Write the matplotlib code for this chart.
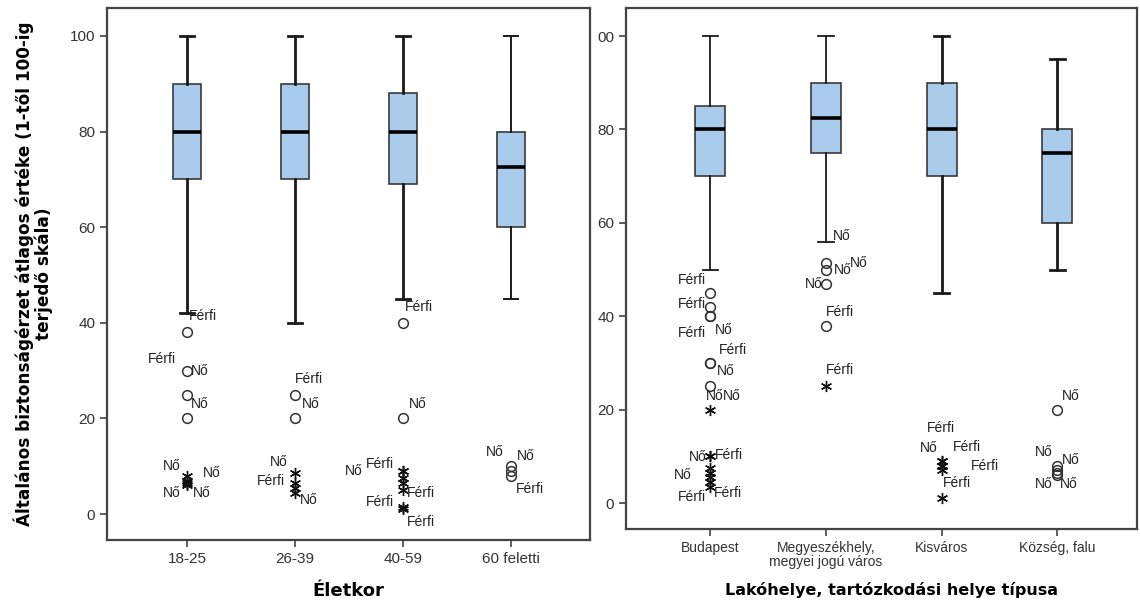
import matplotlib.pyplot as plt

# Életkor szerinti dobozábrák
age_groups = ["18-25", "26-39", "40-59", "60 feletti"]
age_whislo = [42, 40, 45, 45]
age_q1 = [70, 70, 69, 60]
age_med = [80, 80, 80, 72.5]
age_q3 = [90, 90, 88, 80]
age_whishi = [100, 100, 100, 100]

# kiugró értékek: csoport, érték, jelölés ('o' kiugró, '*' extrém), címke
age_out_group = [0, 0, 0, 0, 0, 0, 0, 0,
                 1, 1, 1, 1, 1, 1,
                 2, 2, 2, 2, 2, 2, 2, 2, 2,
                 3, 3, 3]
age_out_value = [38, 30, 25, 20, 8, 7, 6.5, 6,
                 25, 20, 8.5, 6.5, 5.5, 4.5,
                 40, 20, 9, 9, 7.5, 6.5, 5, 1.5, 1,
                 10, 9, 8]
age_out_kind = ["o", "o", "o", "o", "*", "*", "*", "*",
                "o", "o", "*", "*", "*", "*",
                "o", "o", "*", "*", "*", "*", "*", "*", "*",
                "o", "o", "o"]
age_out_label = ["Férfi", "Nő", "Férfi", "Nő", "Nő", "Nő", "Nő", "Nő",
                 "Férfi", "Nő", "Nő", "Férfi", "", "Nő",
                 "Férfi", "Nő", "Férfi", "Nő", "", "", "Férfi", "Férfi", "Férfi",
                 "Nő", "Nő", "Férfi"]
age_label_dx = [2, 4, -39, 4, -24, 16, -24, 6,
                0, 7, -25, -38, 0, 5,
                2, 6, -37, -58, 0, 0, 4, -37, 4,
                -25, 6, 5]
age_label_dy = [16, 0, 36, 14, 10, 8, -10, -8,
                16, 14, 11, 2, 0, -7,
                16, 14, 7, 0, 0, 0, -3, 5, -13,
                14, 15, -13]

# Lakóhely típusa szerinti dobozábrák
place_groups = ["Budapest", "Megyeszékhely,\nmegyei jogú város", "Kisváros", "Község, falu"]
place_whislo = [50, 56, 45, 50]
place_q1 = [70, 75, 70, 60]
place_med = [80, 82.5, 80, 75]
place_q3 = [85, 90, 90, 80]
place_whishi = [100, 100, 100, 95]

place_out_group = [0, 0, 0, 0, 0, 0, 0, 0, 0, 0, 0, 0, 0, 0, 0,
                   1, 1, 1, 1, 1, 1,
                   2, 2, 2, 2, 2, 2,
                   3, 3, 3, 3, 3]
place_out_value = [45, 42, 40, 40, 30, 30, 25, 20, 10, 10, 7.5, 6.5, 5.5, 4.5, 3.5,
                   56, 51.5, 50, 47, 38, 25,
                   9, 9, 8, 8, 7, 1,
                   20, 8, 7, 6.5, 6]
place_out_kind = ["o", "o", "o", "o", "o", "o", "o", "*", "*", "*", "*", "*", "*", "*", "*",
                  "", "o", "o", "o", "o", "*",
                  "*", "*", "*", "*", "*", "*",
                  "o", "o", "o", "o", "o"]
place_out_label = ["Férfi", "Férfi", "Férfi", "Nő", "Férfi", "Nő", "Nő", "Nő",
                   "Nő", "Férfi", "", "Nő", "", "Férfi", "Férfi",
                   "Nő", "Nő", "Nő", "Nő", "Férfi", "Férfi",
                   "Férfi", "Nő", "Férfi", "Férfi", "Férfi", "",
                   "Nő", "Nő", "Nő", "Nő", "Nő"]
place_label_dx = [-33, -33, -33, 4, 8, 6, -5, 12, -22, 4, 0, -37, 0, 3, -33,
                  7, 24, 8, -21, 0, 0,
                  -15, -22, 11, 29, 1, 0,
                  5, -22, 5, -22, 3]
place_label_dy = [13, 3, -17, -14, 13, -8, -10, 14, -1, 1, 0, -2, 0, -11, -10,
                  6, 0, 0, 0, 14, 16,
                  33, 13, 19, 0, -13, 0,
                  14, 14, 10, -11, -9]

box_color = "#a9cbec"
edge_color = "#3a3a3a"
text_font = "Liberation Sans"
bold_font = "DejaVu Sans"


def draw_panel(ax, names, lo, q1, med, q3, hi, og, ov, ok, ol, dx, dy, whisker_lw):
    stats = []
    for i in range(len(names)):
        stats.append(dict(whislo=lo[i], q1=q1[i], med=med[i], q3=q3[i], whishi=hi[i]))
    pos = list(range(1, len(names) + 1))
    parts = ax.bxp(stats, positions=pos, widths=0.26, showfliers=False,
                   patch_artist=True,
                   boxprops=dict(facecolor=box_color, edgecolor=edge_color, linewidth=1.2),
                   medianprops=dict(color="black", linewidth=2.6),
                   whiskerprops=dict(color="#1a1a1a"),
                   capprops=dict(color="#1a1a1a"))
    for i in range(len(names)):
        for art in parts["whiskers"][2 * i:2 * i + 2] + parts["caps"][2 * i:2 * i + 2]:
            art.set_linewidth(whisker_lw[i])

    for g, v, k, lab, ddx, ddy in zip(og, ov, ok, ol, dx, dy):
        x = pos[g]
        if k == "o":
            ax.plot(x, v, marker="o", ms=7, mfc="none", mec="#333333", mew=1.1)
        elif k == "*":
            ax.plot(x, v, marker=(6, 2, 0), ms=8, color="#111111", mew=1.0)
        if lab:
            ax.annotate(lab, (x, v), xytext=(ddx, ddy), textcoords="offset pixels",
                        ha="left", va="center", fontsize=10, family=text_font,
                        color="#222222")

    ax.set_xticks(pos)
    for s in ax.spines.values():
        s.set_color("#444444")
        s.set_linewidth(1.6)
    ax.tick_params(direction="out", length=5, width=1.2, color="#444444")
    return pos


fig = plt.figure(figsize=(11.4, 6.05), dpi=100)

ax1 = fig.add_axes([0.0939, 0.1074, 0.4237, 0.8794])
draw_panel(ax1, age_groups, age_whislo, age_q1, age_med, age_q3, age_whishi,
           age_out_group, age_out_value, age_out_kind, age_out_label,
           age_label_dx, age_label_dy, [2.0, 2.0, 2.0, 1.4])
ax1.set_xlim(0.26, 4.73)
ax1.set_ylim(-5.44, 105.86)
ax1.set_yticks([0, 20, 40, 60, 80, 100])
ax1.set_yticklabels(["0", "20", "40", "60", "80", "100"], family=text_font, fontsize=11, color="#333333")
ax1.set_xticklabels(age_groups, family=text_font, fontsize=11, color="#333333")
ax1.set_xlabel("Életkor", family=bold_font, fontweight="bold", fontsize=13, labelpad=12)
ax1.set_ylabel("Általános biztonságérzet átlagos értéke (1-től 100-ig\nterjedő skála)",
               family=bold_font, fontweight="bold", fontsize=12.2, linespacing=1.0)
ax1.yaxis.set_label_coords(-0.112, 0.5)

ax2 = fig.add_axes([0.5491, 0.1256, 0.4483, 0.861])
draw_panel(ax2, place_groups, place_whislo, place_q1, place_med, place_q3, place_whishi,
           place_out_group, place_out_value, place_out_kind, place_out_label,
           place_label_dx, place_label_dy, [1.3, 1.3, 2.0, 2.0])
ax2.set_xlim(0.27, 4.69)
ax2.set_ylim(-5.57, 106.0)
ax2.set_yticks([0, 20, 40, 60, 80, 100])
ax2.set_yticklabels(["0", "20", "40", "60", "80", "00"], family=text_font, fontsize=11, color="#333333")
ax2.set_xticklabels(place_groups, family=text_font, fontsize=10, color="#333333", linespacing=1.0)
ax2.set_xlabel("Lakóhelye, tartózkodási helye típusa", family=bold_font, fontweight="bold",
               fontsize=11.5)
ax2.xaxis.set_label_coords(0.52, -0.118)
ax2.xaxis.label.set_va("center")

fig.savefig("out.png", dpi=100)
